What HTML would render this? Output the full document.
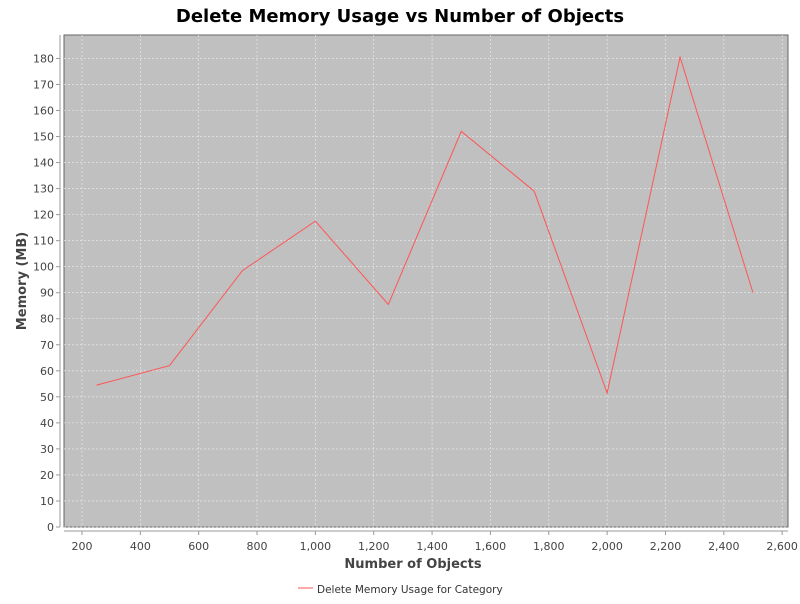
<!DOCTYPE html>
<html><head><meta charset="utf-8"><style>
body{margin:0;background:#fff;font-family:"DejaVu Sans","Liberation Sans",sans-serif}
svg text{font-family:"DejaVu Sans","Liberation Sans",sans-serif}
</style></head><body>
<svg id="c" width="800" height="600">
<text x="400" y="22" text-anchor="middle" font-size="18" font-weight="bold" fill="#000">Delete Memory Usage vs Number of Objects</text>
<rect x="64" y="35" width="724" height="492" fill="#c0c0c0" stroke="#666" stroke-width="1"/>
<g id="grid"></g><g id="axes"></g>
<text x="413" y="568" text-anchor="middle" font-size="13" font-weight="bold" fill="#444">Number of Objects</text>
<text transform="translate(26,281) rotate(-90)" text-anchor="middle" font-size="13" font-weight="bold" fill="#444">Memory (MB)</text>
<g>
<line x1="298" y1="588" x2="313" y2="588" stroke="#ff5555" stroke-width="1"/>
<text x="317" y="593" font-size="10.5" fill="#333">Delete Memory Usage for Category</text>
</g>
</svg>
<script>
const categories=[250,500,750,1000,1250,1500,1750,2000,2250,2500];
const memoryValues=[54.5,62,98.5,117.5,85.5,152,129,51.5,180.5,90];
const xTicks=[200,400,600,800,1000,1200,1400,1600,1800,2000,2200,2400,2600];
const yTicks=[0,10,20,30,40,50,60,70,80,90,100,110,120,130,140,150,160,170,180];
const NS="http://www.w3.org/2000/svg";
const X0=64,X1=788,Y0=527,Y1=35,xmin=138.3,xmax=2620,ymin=0,ymax=189;
const xs=v=>X0+(v-xmin)/(xmax-xmin)*(X1-X0);
const ys=v=>Y0-(v-ymin)/(ymax-ymin)*(Y0-Y1);
const svg=document.getElementById('c'),grid=document.getElementById('grid'),axes=document.getElementById('axes');
function mk(t,a,p){const e=document.createElementNS(NS,t);for(const k in a)e.setAttribute(k,a[k]);p.appendChild(e);return e;}
xTicks.forEach(v=>{const x=xs(v);
const g=mk('line',{x1:x,x2:x,y1:Y1,y2:Y0,stroke:'#eee','stroke-dasharray':'2,2','stroke-width':0.6},grid);


const tk=mk('line',{x1:x,x2:x,y1:531,y2:535,stroke:'#999'},axes);


const t=mk('text',{x:x,y:550,'text-anchor':'middle','font-size':11,fill:'#444'},axes);t.textContent=v.toLocaleString('en-US');

});
yTicks.forEach(v=>{const y=ys(v);
const g=mk('line',{x1:X0,x2:X1,y1:y,y2:y,stroke:'#eee','stroke-dasharray':'2,2','stroke-width':0.6},grid);


const tk=mk('line',{x1:56,x2:60,y1:y,y2:y,stroke:'#999'},axes);


const t=mk('text',{x:54,y:y+4,'text-anchor':'end','font-size':11,fill:'#444'},axes);t.textContent=v;

});
const xa=mk('line',{x1:X0,x2:X1,y1:531,y2:531,stroke:'#999'},axes);


const ya=mk('line',{x1:60,x2:60,y1:Y1,y2:Y0,stroke:'#999'},axes);


const pl=mk('polyline',{points:categories.map((c,i)=>xs(c)+','+ys(memoryValues[i])).join(' '),fill:'none',stroke:'#ff5555','stroke-width':1},svg);


</script>
</body></html>
